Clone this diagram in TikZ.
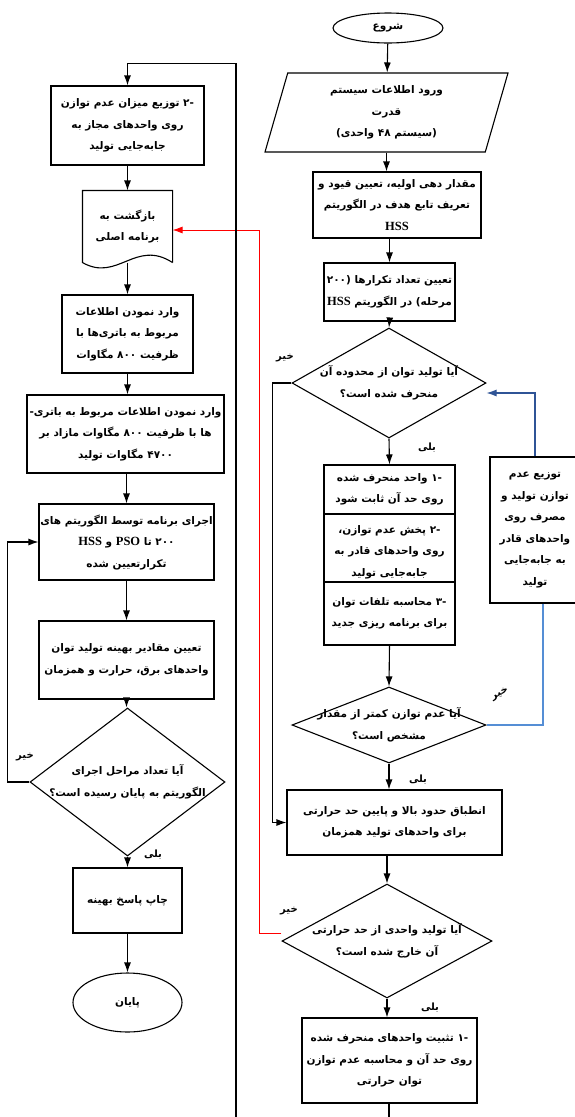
\documentclass[tikz,border=0pt]{standalone}
\usepackage{fontspec}
\usetikzlibrary{shapes.geometric,arrows.meta}
\newfontfamily\arabicfont[Script=Arabic]{DejaVu Sans}
\newfontfamily\latinfont{Liberation Serif}
\TeXXeTstate=1
\newcommand{\fa}[1]{\beginR #1\endR}
\newcommand{\lat}[1]{\beginL{\latinfont\bfseries\fontsize{12.5}{21.5}\selectfont #1}\endL}
\newcommand{\fafont}{\arabicfont\bfseries\fontsize{10.5}{21.5}\selectfont}
\definecolor{darkblue}{RGB}{47,84,150}
\definecolor{lightblue}{RGB}{85,142,213}

\begin{document}
\begin{tikzpicture}[x=1pt,y=-1pt,
  box/.style={draw,line width=1.1pt,rectangle,align=center,inner sep=0pt,font=\fafont},
  dec/.style={draw,line width=1.1pt,diamond,inner sep=0pt},
  dtext/.style={font=\fafont,align=center},
  term/.style={draw,line width=1.1pt,ellipse,inner sep=0pt,font=\fafont},
  arr/.style={line width=1.1pt,-{Latex[length=10pt,width=7pt]}},
  lbl/.style={inner sep=1pt,font=\arabicfont\bfseries\fontsize{10}{12}\selectfont}]
  \useasboundingbox (0,0) rectangle (575,1117);

  % right column
  \node[term,minimum width=110pt,minimum height=30pt] (start) at (388,28) {\fa{شروع}};
  \node[box,trapezium,trapezium left angle=67,trapezium right angle=113,
    trapezium stretches body,minimum width=243pt,minimum height=79pt] (input) at (386.5,112.5)
    {\fa{ورود اطلاعات سیستم}\\\fa{قدرت}\\\fa{(سیستم ۴۸ واحدی)}};
  \node[box,minimum width=168pt,minimum height=66pt] (init) at (397,205)
    {\fa{مقدار دهی اولیه، تعیین قیود و}\\\fa{تعریف تابع هدف در الگوریتم}\\\lat{HSS}};
  \node[box,minimum width=131pt,minimum height=58pt] (iter) at (389.5,292)
    {\fa{تعیین تعداد تکرارها (۲۰۰}\\\fa{مرحله) در الگوریتم \lat{HSS}}};
  \node[dec,minimum width=194pt,minimum height=110pt,
    label={[dtext]center:{\fa{آیا تولید توان از محدوده آن}\\\fa{منحرف شده است؟}}}] (dev) at (389,383) {};
  \node[box,minimum width=131pt,minimum height=49pt] (fix1) at (389.5,489.5)
    {\fa{-۱ واحد منحرف شده}\\\fa{روی حد آن ثابت شود}};
  \node[box,minimum width=131pt,minimum height=68pt,
    label={[dtext,yshift=-4pt]center:{\fa{-۲ پخش عدم توازن،}\\\fa{روی واحدهای قادر به}\\\fa{جابه‌جایی تولید}}}] (spread) at (389.5,548) {};
  \node[box,minimum width=131pt,minimum height=63pt] (loss) at (389.5,613.5)
    {\fa{-۳ محاسبه تلفات توان}\\\fa{برای برنامه ریزی جدید}};
  \node[box,minimum width=90pt,minimum height=146pt] (dist) at (535,530)
    {\fa{توزیع عدم}\\\fa{توازن تولید و}\\\fa{مصرف روی}\\\fa{واحدهای قادر}\\\fa{به جابه‌جایی}\\\fa{تولید}};
  \node[dec,minimum width=194pt,minimum height=76pt,
    label={[dtext]center:{\fa{آیا عدم توازن کمتر از مقدار}\\\fa{مشخص است؟}}}] (bal) at (389,725) {};
  \node[box,minimum width=215pt,minimum height=65pt] (lim) at (394.5,822.5)
    {\fa{انطباق حدود بالا و پایین حد حرارتی}\\\fa{برای واحدهای تولید همزمان}};
  \node[dec,minimum width=210pt,minimum height=114pt,
    label={[dtext]center:{\fa{آیا تولید واحدی از حد حرارتی}\\\fa{آن خارج شده است؟}}}] (heat) at (387,941) {};
  \node[box,minimum width=175pt,minimum height=85pt] (pin) at (389.5,1060.5)
    {\fa{-۱ تثبیت واحدهای منحرف شده}\\\fa{روی حد آن و محاسبه عدم توازن}\\\fa{توان حرارتی}};
  \coordinate (tail) at (389,1125);
  \coordinate (back) at (236,1125);

  % left column
  \node[box,minimum width=153pt,minimum height=79pt] (imb) at (127.5,125.5)
    {\fa{-۲ توزیع میزان عدم توازن}\\\fa{روی واحدهای مجاز به}\\\fa{جابه‌جایی تولید}};
  \node[box,draw=none,minimum width=89pt,minimum height=71pt] (ret) at (127.5,226.5)
    {\fa{بازگشت به}\\\fa{برنامه اصلی}};
  \draw[line width=1.1pt] (ret.south east) -- (ret.north east) -- (ret.north west) -- (ret.south west)
    .. controls +(35,20) and +(-37,-24) .. (ret.south east);
  \node[box,minimum width=131pt,minimum height=78pt] (bat1) at (127.5,334)
    {\fa{وارد نمودن اطلاعات}\\\fa{مربوط به باتری‌ها با}\\\fa{ظرفیت ۸۰۰ مگاوات}};
  \node[box,minimum width=197pt,minimum height=78pt] (bat2) at (125.5,434)
    {\fa{وارد نمودن اطلاعات مربوط به باتری-}\\\fa{ها با ظرفیت ۸۰۰ مگاوات مازاد بر}\\\fa{۴۷۰۰ مگاوات تولید}};
  \node[box,minimum width=175pt,minimum height=76pt] (run) at (126.5,542)
    {\fa{اجرای برنامه توسط الگوریتم های}\\\fa{۲۰۰ تا \lat{PSO} و \lat{HSS}}\\\fa{تکرارتعیین شده}};
  \node[box,minimum width=175pt,minimum height=78pt] (opt) at (126.5,660)
    {\fa{تعیین مقادیر بهینه تولید توان}\\\fa{واحدهای برق، حرارت و همزمان}};
  \node[dec,minimum width=195pt,minimum height=148pt,
    label={[dtext]center:{\fa{آیا تعداد مراحل اجرای}\\\fa{الگوریتم به پایان رسیده است؟}}}] (done) at (127.5,782) {};
  \node[box,minimum width=109pt,minimum height=65pt] (print) at (127.5,900.5) {\fa{چاپ پاسخ بهینه}};
  \node[term,minimum width=109pt,minimum height=59pt] (stop) at (127.5,1002.5) {\fa{پایان}};

  % connectors, right column
  \draw[arr] (start) -- (input);
  \draw[arr] (input.south) -- (input.south |- init.north);
  \draw[arr] (iter.north |- init.south) -- (iter.north);
  \draw[arr] (iter.south) -- (dev.north);
  \draw[arr] (dev.south) -- (fix1.north);
  \draw[arr] (loss.south) -- (bal.north);
  \draw[arr] (bal.south) -- (bal.south |- lim.north);
  \draw[arr] (lim.south -| heat.north) -- (heat.north);
  \draw[arr] (heat.south) -- (heat.south |- pin.north);
  \draw[line width=1.1pt] (pin.south -| tail) -- (tail);
  \draw[arr] (dev.west) -- ++(-19,0) |- (lim.west);
  \draw[arr,draw=darkblue] (dist.north) |- ([yshift=-10pt]dev.east);
  \draw[line width=1.1pt,lightblue] ([xshift=8pt]dist.south) |- (bal.east);
  \draw[arr,draw=red,line width=0.9pt] ([yshift=8pt]heat.west) -- ++(-22,0) |- ([yshift=-3.5pt]ret.east);
  \draw[arr,line width=1.2pt] (back) |- ([yshift=22pt]imb.north) -- (imb.north);

  % connectors, left column
  \draw[arr] (imb) -- (ret.north);
  \draw[arr] (ret.south) -- (bat1);
  \draw[arr] (bat1.south) -- (bat1.south |- bat2.north);
  \draw[arr] (bat2.south) -- (bat2.south -| run.north) -- (run.north);
  \draw[arr] (run) -- (opt);
  \draw[arr] (opt.south) -- (opt.south |- done.north);
  \draw[arr] (done) -- (print);
  \draw[arr] (print) -- (stop);
  \draw[arr] (done.west) -- ++(-22,0) |- (run.west);

  % yes / no labels
  \node[lbl] (no1) at (285,358) {\fa{خیر}};
  \node[lbl] (yes1) at (427,448) {\fa{بلی}};
  \node[lbl,rotate=25] (no2) at (500,694) {\fa{خیر}};
  \node[lbl] (yes2) at (418,780) {\fa{بلی}};
  \node[lbl] (no3) at (289,911) {\fa{خیر}};
  \node[lbl] (yes3) at (430,1008) {\fa{بلی}};
  \node[lbl] (no4) at (25,757) {\fa{خیر}};
  \node[lbl] (yes4) at (153,855) {\fa{بلی}};
\end{tikzpicture}
\end{document}
